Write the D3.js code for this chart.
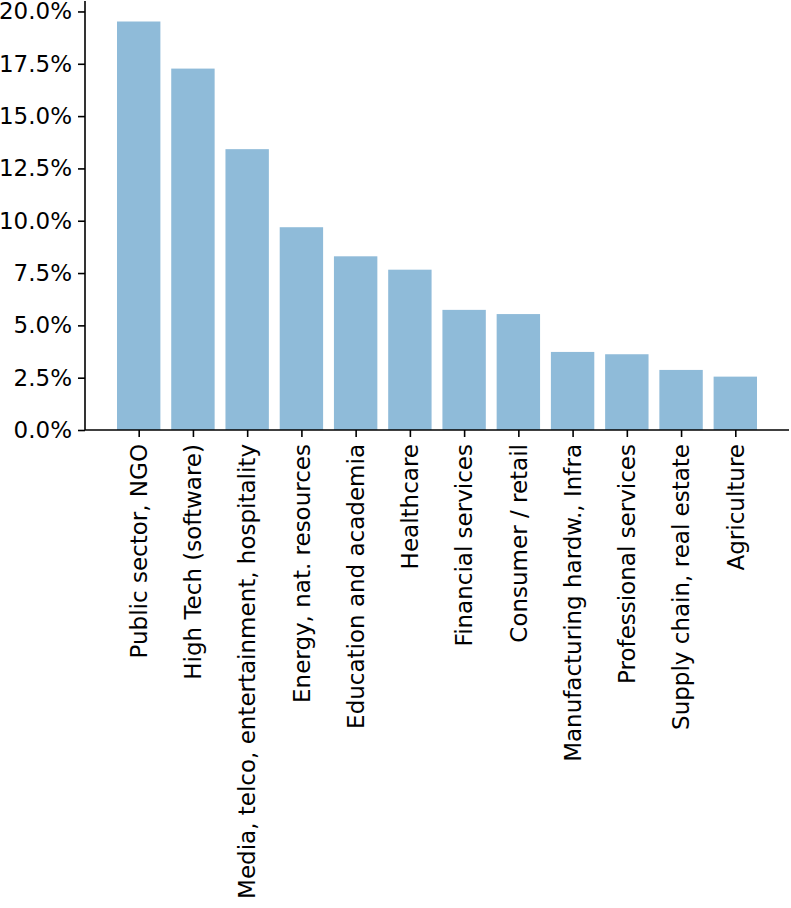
<!DOCTYPE html>
<html>
<head>
<meta charset="utf-8">
<script src="https://cdn.jsdelivr.net/npm/d3@7"></script>
<style>
  body { margin: 0; background: #fff; }
  text { font-family: "DejaVu Sans", sans-serif; }
</style>
</head>
<body>
<div id="chart"></div>
<script>
var svgWidth = 791;
var svgHeight = 908;

var margin = { top: 1, right: 2, bottom: 478, left: 85 };
var width = svgWidth - margin.left - margin.right;
var height = svgHeight - margin.top - margin.bottom;

// data
var sectors = [
  "Public sector, NGO",
  "High Tech (software)",
  "Media, telco, entertainment, hospitality",
  "Energy, nat. resources",
  "Education and academia",
  "Healthcare",
  "Financial services",
  "Consumer / retail",
  "Manufacturing hardw., Infra",
  "Professional services",
  "Supply chain, real estate",
  "Agriculture"
];
var shares = [19.52, 17.27, 13.42, 9.69, 8.30, 7.66, 5.74, 5.54, 3.73, 3.62, 2.87, 2.55];
var yTicks = [0, 2.5, 5, 7.5, 10, 12.5, 15, 17.5, 20];

var fontSize = "23px";

var svg = d3.select("#chart")
  .append("svg")
  .attr("width", svgWidth)
  .attr("height", svgHeight);

var chartGroup = svg.append("g")
  .attr("transform", `translate(${margin.left}, ${margin.top})`);

// matplotlib-like x limits: bars of width 0.8 with 5% margins
var xScale = d3.scaleLinear()
  .domain([-0.99, sectors.length - 1 + 0.99])
  .range([0, width]);

var yScale = d3.scaleLinear()
  .domain([0, 20.5])
  .range([height, 0]);

var barW = xScale(0.8) - xScale(0);

chartGroup.selectAll("rect")
  .data(shares)
  .enter()
  .append("rect")
  .attr("x", (d, i) => xScale(i - 0.4))
  .attr("y", d => yScale(d))
  .attr("width", barW)
  .attr("height", d => height - yScale(d))
  .attr("fill", "#1f77b4")
  .attr("fill-opacity", 0.5);

// y axis
var leftAxis = d3.axisLeft(yScale)
  .tickValues(yTicks)
  .tickSize(7)
  .tickPadding(6)
  .tickFormat(d => d.toFixed(1) + "%");

var yAxis = chartGroup.append("g").call(leftAxis);
yAxis.select(".domain").attr("d", `M0,0V${height}`);

// x axis
var bottomAxis = d3.axisBottom(xScale)
  .tickValues(d3.range(sectors.length))
  .tickSize(7)
  .tickFormat("");

var xAxis = chartGroup.append("g")
  .attr("transform", `translate(0, ${height})`)
  .call(bottomAxis);
xAxis.select(".domain").attr("d", `M0,0H${width}`);

svg.selectAll(".domain").attr("stroke", "#000").attr("stroke-width", 1.6);
svg.selectAll(".tick line").attr("stroke", "#000").attr("stroke-width", 1.6);
yAxis.selectAll("text")
  .attr("font-size", fontSize)
  .attr("fill", "#000")
  .attr("font-family", "DejaVu Sans, sans-serif");

// rotated category labels
xAxis.selectAll(".cat")
  .data(sectors)
  .enter()
  .append("text")
  .attr("class", "cat")
  .attr("transform", (d, i) => `translate(${xScale(i)}, 14) rotate(-90)`)
  .attr("text-anchor", "end")
  .attr("dy", "0.36em")
  .attr("font-size", fontSize)
  .attr("fill", "#000")
  .text(d => d);
</script>
</body>
</html>
